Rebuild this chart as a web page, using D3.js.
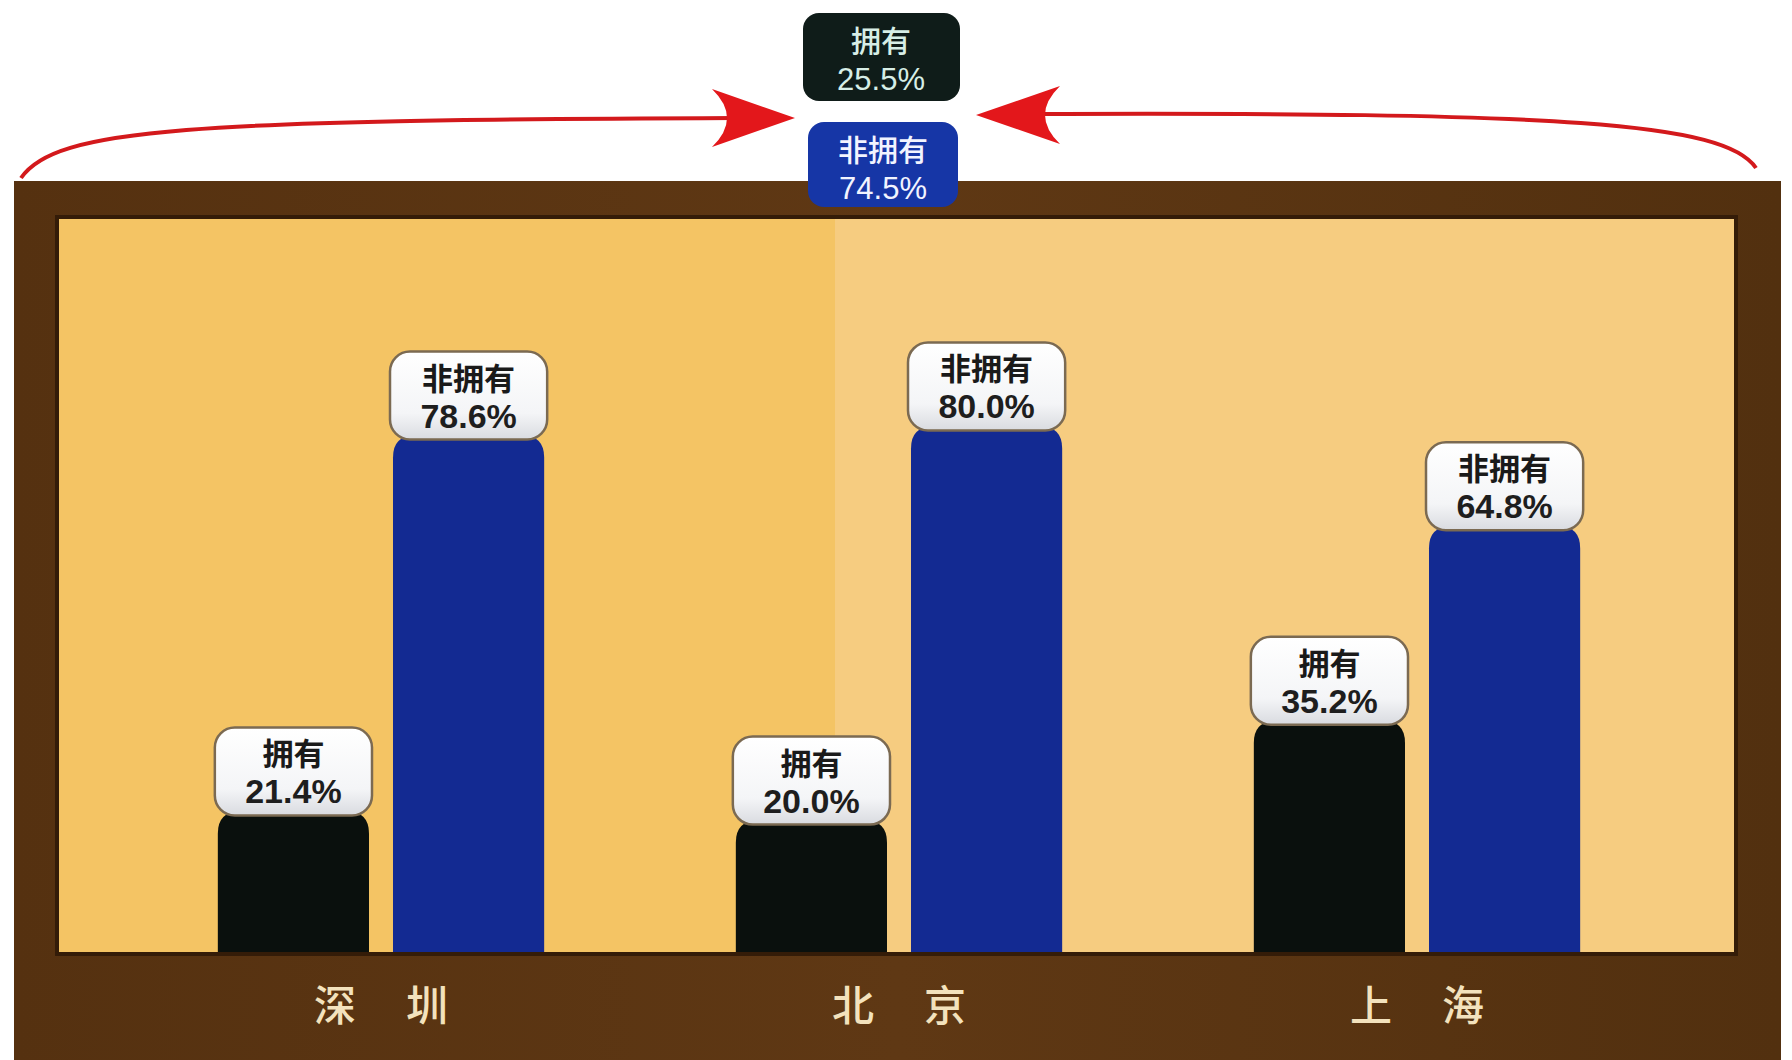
<!DOCTYPE html>
<html>
<head>
<meta charset="utf-8">
<script src="https://cdn.jsdelivr.net/npm/d3@7"></script>
<style>
  html, body { margin: 0; padding: 0; background: #fff; }
  svg { display: block; }
</style>
</head>
<body>
<div id="chart"></div>
<script>
const cities = ['深圳', '北京', '上海']
const series = ['拥有', '非拥有']
const ownShare = [21.4, 20.0, 35.2]
const notOwnShare = [78.6, 80.0, 64.8]
const overallShare = [25.5, 74.5]

const W = 1792, H = 1060
const frame = { x: 14, y: 181, w: 1767, h: 900 }
const panel = { x: 59, y: 219, w: 1675, h: 733 }
const foldX = 835
const baseY = 952

const rows = cities.map((c, i) => ({ city: c, values: [ownShare[i], notOwnShare[i]] }))

const svg = d3.select('#chart').append('svg')
  .attr('width', W).attr('height', H)

const defs = svg.append('defs')
const lg = defs.append('linearGradient').attr('id', 'boxfill')
  .attr('x1', 0).attr('y1', 0).attr('x2', 0).attr('y2', 1)
lg.append('stop').attr('offset', '0%').attr('stop-color', '#ffffff')
lg.append('stop').attr('offset', '70%').attr('stop-color', '#f4f5f7')
lg.append('stop').attr('offset', '100%').attr('stop-color', '#d9dbe0')

const wood = defs.append('linearGradient').attr('id', 'wood')
  .attr('x1', 0).attr('y1', 0).attr('x2', 1).attr('y2', 0)
wood.append('stop').attr('offset', '0%').attr('stop-color', '#553110')
wood.append('stop').attr('offset', '50%').attr('stop-color', '#5f3814')
wood.append('stop').attr('offset', '100%').attr('stop-color', '#52300f')

// wooden frame and paper panel
svg.append('rect')
  .attr('x', frame.x).attr('y', frame.y).attr('width', frame.w).attr('height', frame.h)
  .attr('fill', 'url(#wood)')
svg.append('rect')
  .attr('x', panel.x - 4).attr('y', panel.y - 4).attr('width', panel.w + 8).attr('height', panel.h + 8)
  .attr('fill', '#341c08')
svg.append('rect')
  .attr('x', panel.x).attr('y', panel.y).attr('width', foldX - panel.x).attr('height', panel.h)
  .attr('fill', '#f4c464')
svg.append('rect')
  .attr('x', foldX).attr('y', panel.y).attr('width', panel.x + panel.w - foldX).attr('height', panel.h)
  .attr('fill', '#f6cc80')

// scales
const x0 = d3.scaleBand().domain(cities).range([122, 1676]).paddingInner(0.37).paddingOuter(0.185)
const x1 = d3.scaleBand().domain(series).range([0, x0.bandwidth()]).paddingInner(0.137)
const y = d3.scaleLinear().domain([0, 100]).range([baseY, baseY - 657])
const color = d3.scaleOrdinal().domain(series).range(['#0a100d', '#132a92'])

const barPath = (x, top, w, bottom, r) =>
  `M${x},${bottom}V${top + r}Q${x},${top} ${x + r},${top}H${x + w - r}Q${x + w},${top} ${x + w},${top + r}V${bottom}Z`

const groups = svg.append('g').selectAll('g')
  .data(rows).join('g')
  .attr('transform', d => `translate(${x0(d.city)},0)`)

const bars = groups.selectAll('g.bar')
  .data(d => d.values.map((v, i) => ({ key: series[i], value: v })))
  .join('g').attr('class', 'bar')

bars.append('path')
  .attr('d', d => barPath(x1(d.key), y(d.value), x1.bandwidth(), baseY, 22))
  .attr('fill', d => color(d.key))

const boxH = 88
bars.append('rect')
  .attr('x', d => x1(d.key) - 3)
  .attr('y', d => y(d.value) - boxH + 4)
  .attr('width', x1.bandwidth() + 6)
  .attr('height', boxH)
  .attr('rx', 20)
  .attr('fill', 'url(#boxfill)')
  .attr('stroke', '#7b6a52')
  .attr('stroke-width', 2.5)

bars.append('text')
  .attr('x', d => x1(d.key) + x1.bandwidth() / 2)
  .attr('y', d => y(d.value) - boxH + 42)
  .attr('text-anchor', 'middle')
  .attr('font-family', '"Noto Sans CJK SC", sans-serif')
  .attr('font-weight', 700)
  .attr('font-size', 31)
  .attr('fill', '#1a1a1a')
  .text(d => d.key)

bars.append('text')
  .attr('x', d => x1(d.key) + x1.bandwidth() / 2)
  .attr('y', d => y(d.value) - boxH + 80)
  .attr('text-anchor', 'middle')
  .attr('font-family', '"Liberation Sans", Arial, sans-serif')
  .attr('font-weight', 700)
  .attr('font-size', 34)
  .attr('fill', '#1e1e1e')
  .text(d => d.value.toFixed(1) + '%')

// city labels
const spacing = 50
svg.append('g').selectAll('text')
  .data(cities).join('text')
  .attr('x', d => x0(d) + x0.bandwidth() / 2 + spacing / 2)
  .attr('y', 1021)
  .attr('text-anchor', 'middle')
  .attr('font-family', '"Noto Sans CJK SC", sans-serif')
  .attr('font-weight', 500)
  .attr('font-size', 42)
  .attr('letter-spacing', spacing)
  .attr('fill', '#f3e2bd')
  .text(d => d)

// red arrows converging on the overall figures
const arrows = svg.append('g')
arrows.append('path')
  .attr('d', 'M21,178 C55,128 190,120 735,118')
  .attr('fill', 'none').attr('stroke', '#d3191c').attr('stroke-width', 4)
arrows.append('path')
  .attr('d', 'M795,118 L712,89 Q742,118 712,147 Z')
  .attr('fill', '#e3171b')
arrows.append('path')
  .attr('d', 'M1756,168 C1725,122 1560,112 1035,114')
  .attr('fill', 'none').attr('stroke', '#d3191c').attr('stroke-width', 4)
arrows.append('path')
  .attr('d', 'M976,115 L1060,86 Q1030,115 1060,144 Z')
  .attr('fill', '#e3171b')

// overall boxes
const overall = series.map((s, i) => ({ key: s, value: overallShare[i] }))
const ob = svg.append('g').selectAll('g')
  .data(overall).join('g')
  .attr('transform', (d, i) => `translate(${i === 0 ? 803 : 808},${i === 0 ? 13 : 122})`)

ob.append('rect')
  .attr('width', (d, i) => i === 0 ? 157 : 150)
  .attr('height', (d, i) => i === 0 ? 88 : 85)
  .attr('rx', 16)
  .attr('fill', (d, i) => i === 0 ? '#0f1c19' : '#1636a6')

ob.append('text')
  .attr('x', (d, i) => i === 0 ? 78 : 75)
  .attr('y', 39)
  .attr('text-anchor', 'middle')
  .attr('font-family', '"Noto Sans CJK SC", sans-serif')
  .attr('font-weight', 500)
  .attr('font-size', 30)
  .attr('fill', (d, i) => i === 0 ? '#d7eee6' : '#f2f4ff')
  .text(d => d.key)

ob.append('text')
  .attr('x', (d, i) => i === 0 ? 78 : 75)
  .attr('y', 77)
  .attr('text-anchor', 'middle')
  .attr('font-family', '"Liberation Sans", Arial, sans-serif')
  .attr('font-size', 31)
  .attr('fill', (d, i) => i === 0 ? '#d7eee6' : '#f2f4ff')
  .text(d => d.value.toFixed(1) + '%')
</script>
</body>
</html>
